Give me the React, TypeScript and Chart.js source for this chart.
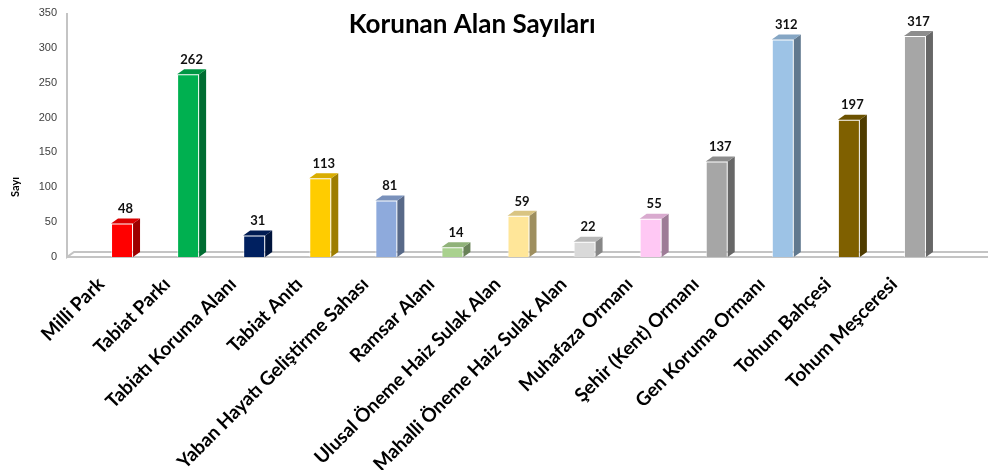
import React, { useEffect, useRef } from 'react';
import { Chart, registerables } from 'chart.js';

Chart.register(...registerables);

const categories: string[] = [
  'Milli Park',
  'Tabiat Parkı',
  'Tabiatı Koruma Alanı',
  'Tabiat Anıtı',
  'Yaban Hayatı Geliştirme Sahası',
  'Ramsar Alanı',
  'Ulusal Öneme Haiz Sulak Alan',
  'Mahalli Öneme Haiz Sulak Alan',
  'Muhafaza Ormanı',
  'Şehir (Kent) Ormanı',
  'Gen Koruma Ormanı',
  'Tohum Bahçesi',
  'Tohum Meşceresi',
];
const values: number[] = [48, 262, 31, 113, 81, 14, 59, 22, 55, 137, 312, 197, 317];
const barColors: string[] = [
  '#ff0000', '#00b050', '#002060', '#ffcc00', '#8eaadc', '#a9d18e', '#ffe699',
  '#d9d9d9', '#ffc8f4', '#a6a6a6', '#9dc3e6', '#7f6000', '#a6a6a6',
];
const yMin = 0;
const yMax = 350;
const yStep = 50;
const chartTitle = 'Korunan Alan Sayıları';
const yAxisTitle = 'Sayı';

function shade(hex: string, f: number): string {
  const n = parseInt(hex.slice(1), 16);
  const r = Math.round(((n >> 16) & 255) * f);
  const g = Math.round(((n >> 8) & 255) * f);
  const b = Math.round((n & 255) * f);
  return `rgb(${r},${g},${b})`;
}

const DX = 7;
const DY = 5;

const floorPlugin = {
  id: 'floor3d',
  beforeDatasetsDraw(chart: any) {
    const { ctx, chartArea } = chart;
    const { left, right, top, bottom } = chartArea;
    const ax = left - 22;
    ctx.save();
    ctx.strokeStyle = '#c4c4c4';
    ctx.lineWidth = 2;
    ctx.beginPath();
    ctx.moveTo(ax, top);
    ctx.lineTo(ax, bottom);
    ctx.lineTo(ax + DX, bottom - DY);
    ctx.lineTo(right + 40, bottom - DY);
    ctx.moveTo(ax, bottom);
    ctx.lineTo(right + 40, bottom);
    ctx.stroke();
    ctx.restore();
  },
};

const barsPlugin = {
  id: 'bars3d',
  afterDatasetsDraw(chart: any) {
    const { ctx } = chart;
    const meta = chart.getDatasetMeta(0);
    ctx.save();
    meta.data.forEach((bar: any, i: number) => {
      const { x, y, base, width } = bar.getProps(['x', 'y', 'base', 'width'], true);
      const l = x - width / 2;
      const r = x + width / 2;
      const c = barColors[i];
      ctx.fillStyle = shade(c, 0.62);
      ctx.beginPath();
      ctx.moveTo(r, y);
      ctx.lineTo(r + DX, y - DY);
      ctx.lineTo(r + DX, base - DY);
      ctx.lineTo(r, base);
      ctx.closePath();
      ctx.fill();
      ctx.fillStyle = shade(c, 0.85);
      ctx.beginPath();
      ctx.moveTo(l, y);
      ctx.lineTo(l + DX, y - DY);
      ctx.lineTo(r + DX, y - DY);
      ctx.lineTo(r, y);
      ctx.closePath();
      ctx.fill();
      ctx.fillStyle = '#111';
      ctx.font = 'bold 13px Lato';
      ctx.textAlign = 'center';
      ctx.textBaseline = 'bottom';
      ctx.fillText(String(values[i]), x + DX / 2, y - DY - 3);
    });
    ctx.restore();
  },
  afterDraw(chart: any) {
    const { ctx } = chart;
    ctx.save();
    ctx.fillStyle = '#000';
    ctx.font = 'bold 26px Lato';
    ctx.textAlign = 'center';
    ctx.textBaseline = 'middle';
    ctx.fillText(chartTitle, chart.width * 0.476, 25);
    ctx.translate(15, 187);
    ctx.rotate(-Math.PI / 2);
    ctx.font = 'bold 11px Lato';
    ctx.fillText(yAxisTitle, 0, 0);
    ctx.restore();
  },
};

export default function App() {
  const ref = useRef<HTMLCanvasElement | null>(null);
  useEffect(() => {
    if (!ref.current) return;
    const chart = new Chart(ref.current, {
      type: 'bar',
      data: {
        labels: categories,
        datasets: [
          {
            data: values,
            backgroundColor: barColors,
            borderColor: 'rgba(255,255,255,0.55)',
            borderWidth: 1,
            categoryPercentage: 1,
            barPercentage: 0.333,
          },
        ],
      },
      options: {
        animation: false,
        responsive: true,
        maintainAspectRatio: false,
        layout: { padding: { top: 13, right: 44, left: 0, bottom: 0 } },
        plugins: { legend: { display: false }, tooltip: { enabled: false }, title: { display: false } },
        scales: {
          x: {
            grid: { display: false },
            border: { display: false },
            ticks: {
              autoSkip: false,
              minRotation: 45,
              maxRotation: 45,
              padding: 8,
              labelOffset: -21,
              color: '#000',
              font: { family: 'Lato', weight: 'bold', size: 19 },
            },
            afterFit: (s: any) => {
              s.height = 213;
            },
          },
          y: {
            min: yMin,
            max: yMax,
            grid: { display: false, drawTicks: false },
            border: { display: false },
            ticks: {
              stepSize: yStep,
              padding: 32,
              color: '#404040',
              font: { family: 'Liberation Sans', size: 11 },
            },
            afterFit: (s: any) => {
              s.width = 89;
              s.paddingTop = 7;
              s.paddingBottom = 7;
            },
          },
        },
      },
      plugins: [floorPlugin, barsPlugin],
    });
    return () => chart.destroy();
  }, []);
  return (
    <div style={{ position: 'fixed', left: 0, top: 0, width: 992, height: 470, background: '#fff' }}>
      <canvas ref={ref} />
    </div>
  );
}
